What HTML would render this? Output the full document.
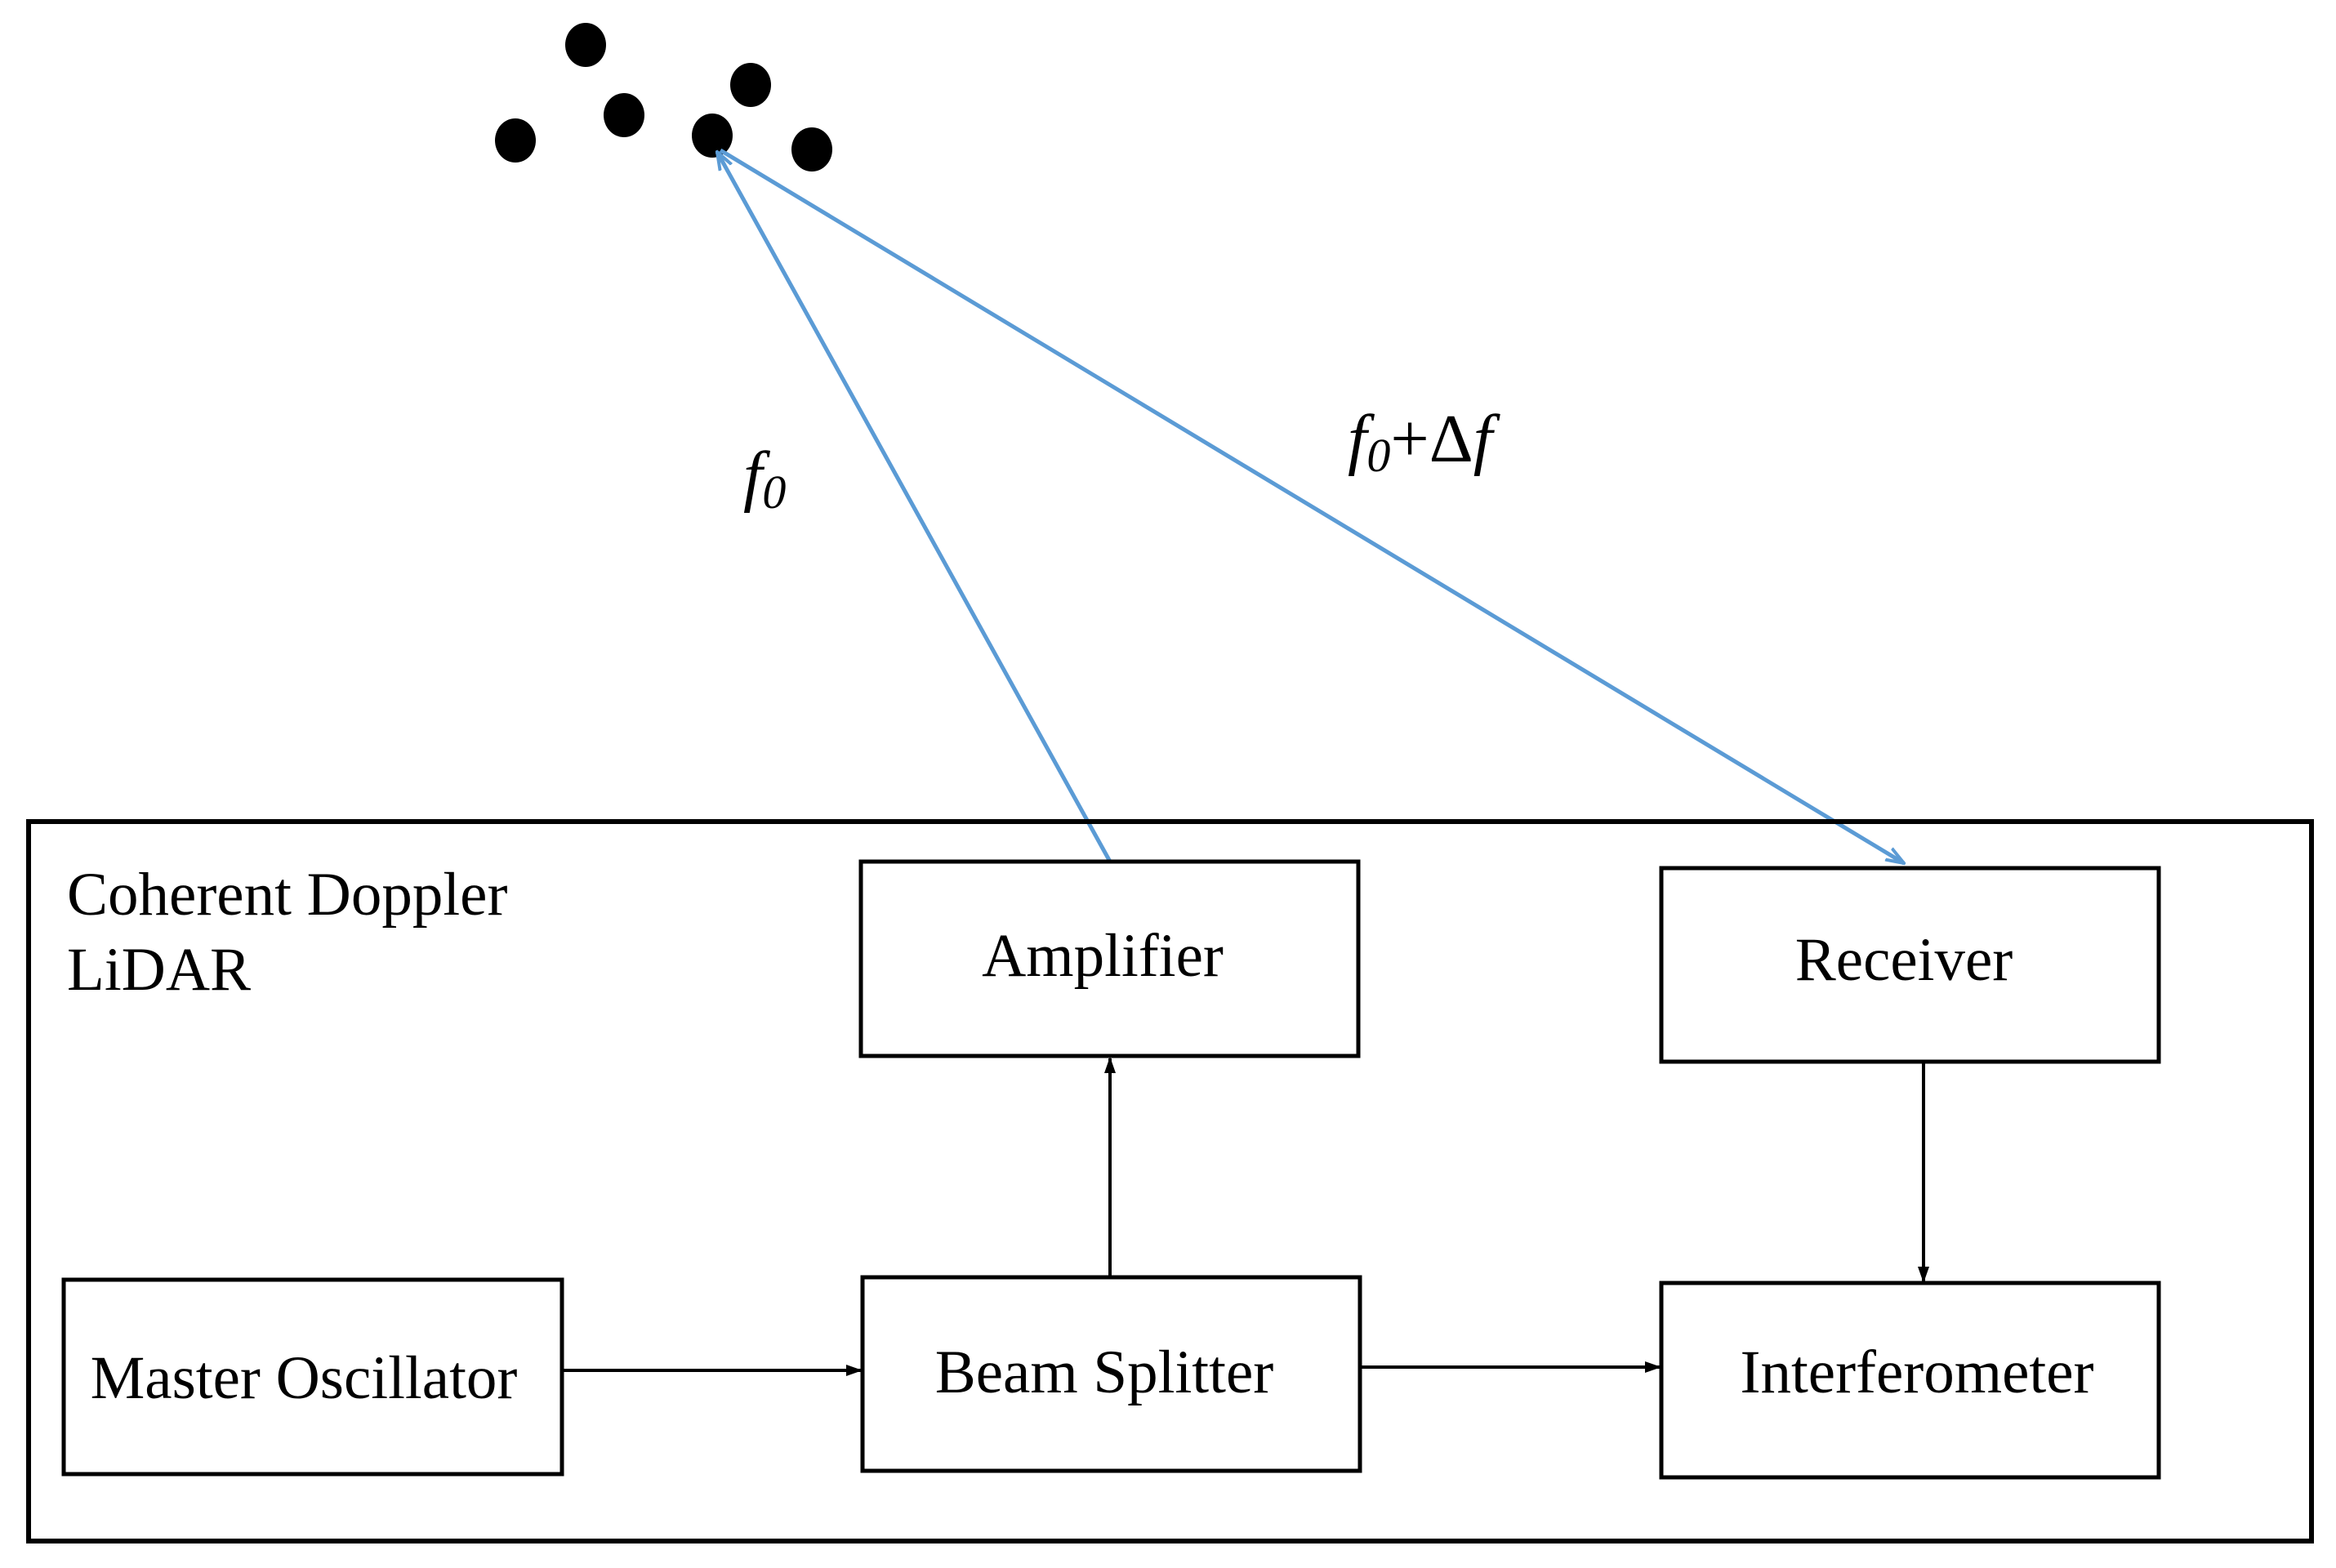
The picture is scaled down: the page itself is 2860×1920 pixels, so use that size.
<!DOCTYPE html>
<html><head><meta charset="utf-8"><style>html,body{margin:0;padding:0;background:#fff}svg{display:block}</style></head>
<body>
<svg width="2860" height="1920" viewBox="0 0 2860 1920" xmlns="http://www.w3.org/2000/svg">
<defs>
<marker id="ab" markerWidth="20" markerHeight="16" refX="18" refY="8" orient="auto" markerUnits="userSpaceOnUse"><path d="M0,1 L20,8 L0,15 z" fill="#000"/></marker>
<marker id="abl" markerWidth="24" markerHeight="20" refX="22" refY="10" orient="auto" markerUnits="userSpaceOnUse"><path d="M0,2 L22,10 L0,18" fill="none" stroke="#5b9bd5" stroke-width="4"/></marker>
</defs>
<g fill="#000">
<ellipse cx="631" cy="172" rx="25" ry="27"/>
<ellipse cx="717" cy="55" rx="25" ry="27"/>
<ellipse cx="764" cy="141" rx="25" ry="27"/>
<ellipse cx="919" cy="104" rx="25" ry="27"/>
<ellipse cx="872" cy="166" rx="25" ry="27"/>
<ellipse cx="994" cy="183" rx="25" ry="27"/>
</g>
<g stroke="#5b9bd5" stroke-width="5" fill="none">
<line x1="1359" y1="1055" x2="878" y2="186" marker-end="url(#abl)"/>
<line x1="882" y1="184" x2="2331" y2="1057" marker-end="url(#abl)"/>
</g>
<g font-family="Liberation Serif, serif" font-style="italic" font-size="84" fill="#000">
<text x="910" y="610">f<tspan font-size="58" dy="12">0</tspan></text>
<text x="1650" y="565">f<tspan font-size="58" dy="12">0</tspan><tspan dy="-12" font-style="normal">+Δ</tspan>f</text>
</g>
<rect x="35" y="1006" width="2795" height="881" fill="none" stroke="#000" stroke-width="6"/>
<g fill="none" stroke="#000" stroke-width="5">
<rect x="1054" y="1055" width="609" height="238"/>
<rect x="2034" y="1063" width="609" height="237"/>
<rect x="78" y="1567" width="610" height="238"/>
<rect x="1056" y="1564" width="609" height="237"/>
<rect x="2034" y="1571" width="609" height="238"/>
</g>
<g stroke="#000" stroke-width="4">
<line x1="1359" y1="1562" x2="1359" y2="1296" marker-end="url(#ab)"/>
<line x1="2355" y1="1302" x2="2355" y2="1569" marker-end="url(#ab)"/>
<line x1="690" y1="1678" x2="1054" y2="1678" marker-end="url(#ab)"/>
<line x1="1667" y1="1674" x2="2032" y2="1674" marker-end="url(#ab)"/>
</g>
<g font-family="Liberation Serif, serif" font-size="75" fill="#000">
<text x="82" y="1120">Coherent Doppler</text>
<text x="82" y="1212">LiDAR</text>
<text x="1350" y="1195" text-anchor="middle">Amplifier</text>
<text x="2331" y="1200" text-anchor="middle">Receiver</text>
<text x="372" y="1712" text-anchor="middle">Master Oscillator</text>
<text x="1352" y="1705" text-anchor="middle">Beam Splitter</text>
<text x="2347" y="1705" text-anchor="middle">Interferometer</text>
</g>
</svg>
</body></html>
